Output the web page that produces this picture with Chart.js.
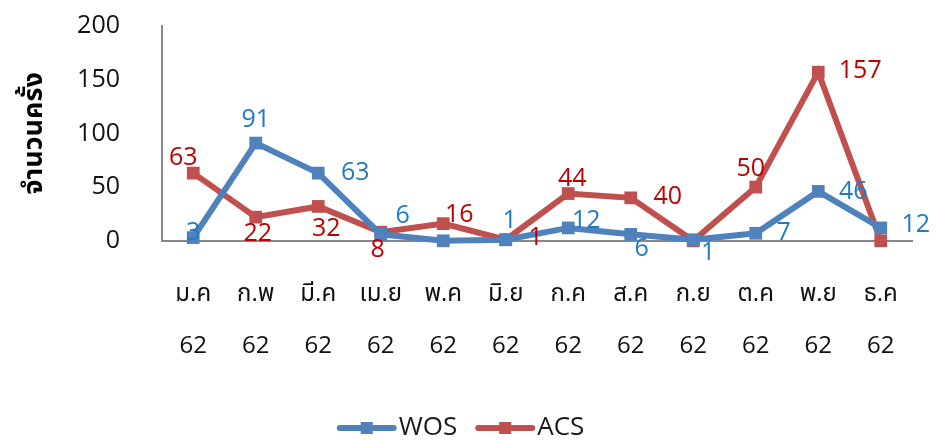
<!DOCTYPE html>
<html>
<head>
<meta charset="utf-8">
<script src="https://cdn.jsdelivr.net/npm/chart.js@4"></script>
<style>
  html, body { margin: 0; padding: 0; background: #fff; }
  #wrap { width: 944px; height: 440px; }
</style>
</head>
<body>
<div id="wrap"><canvas id="chart" width="944" height="440"></canvas></div>
<script>
// data
const months = ['ม.ค', 'ก.พ', 'มี.ค', 'เม.ย', 'พ.ค', 'มิ.ย', 'ก.ค', 'ส.ค', 'ก.ย', 'ต.ค', 'พ.ย', 'ธ.ค'];
const years = ['62', '62', '62', '62', '62', '62', '62', '62', '62', '62', '62', '62'];
const wosValues = [3, 91, 63, 6, 0, 1, 12, 6, 1, 7, 46, 12];
const acsValues = [63, 22, 32, 8, 16, 1, 44, 40, 0, 50, 157, 0];
const yTicks = [0, 50, 100, 150, 200];

// which labels are shown, and where they sit relative to the point (style only)
const wosShow = [true, true, true, true, false, true, true, true, true, true, true, true];
const acsShow = [true, true, true, true, true, true, true, true, false, true, true, false];
const wosOffsets = [[0, -5], [0, -23], [37, 0], [22, -18], [0, 0], [4, -19], [18, -7], [11, 15], [15, 13], [28, 0], [35, 0], [35, -3]];
const acsOffsets = [[-10, -15], [2, 17], [8, 22], [-3, 18], [16, -9], [30, -2], [4, -15], [37, -1], [0, 0], [-5, -18], [42, -1], [0, 0]];

const FONT = '"Open Sans", "Noto Sans", "Noto Sans Thai", Loma, Garuda, "DejaVu Sans", sans-serif';
const WOS_LINE = '#4f81bd';
const ACS_LINE = '#c0504d';
const WOS_TEXT = '#1f7bc4';
const ACS_TEXT = '#c00000';

const labelPlugin = {
    id: 'valueLabels',
    afterDatasetsDraw(chart) {
        const ctx = chart.ctx;
        const sets = [
            { values: wosValues, show: wosShow, offsets: wosOffsets, color: WOS_TEXT },
            { values: acsValues, show: acsShow, offsets: acsOffsets, color: ACS_TEXT }
        ];
        ctx.save();
        ctx.font = '25px ' + FONT;
        ctx.textAlign = 'center';
        ctx.textBaseline = 'middle';
        sets.forEach((s, di) => {
            const meta = chart.getDatasetMeta(di);
            meta.data.forEach((pt, i) => {
                if (!s.show[i]) return;
                ctx.fillStyle = s.color;
                ctx.fillText(String(s.values[i]), pt.x + s.offsets[i][0], pt.y + s.offsets[i][1]);
            });
        });
        ctx.restore();
    }
};

const legendPlugin = {
    id: 'lineLegend',
    afterDraw(chart) {
        const ctx = chart.ctx;
        const items = [
            { text: 'WOS', color: WOS_LINE },
            { text: 'ACS', color: ACS_LINE }
        ];
        ctx.save();
        ctx.font = '26px ' + FONT;
        const lineLen = 54, gapText = 5, gapItem = 21;
        let total = 0;
        items.forEach((it, i) => {
            total += lineLen + gapText + ctx.measureText(it.text).width;
            if (i < items.length - 1) total += gapItem;
        });
        let x = 462 - total / 2;
        const y = 428;
        items.forEach(it => {
            ctx.strokeStyle = it.color;
            ctx.lineWidth = 6;
            ctx.lineCap = 'round';
            ctx.beginPath();
            ctx.moveTo(x, y);
            ctx.lineTo(x + lineLen, y);
            ctx.stroke();
            ctx.fillStyle = it.color;
            ctx.fillRect(x + lineLen / 2 - 6, y - 6, 12, 12);
            x += lineLen + gapText;
            ctx.fillStyle = '#1a1a1a';
            ctx.textAlign = 'left';
            ctx.textBaseline = 'middle';
            ctx.fillText(it.text, x, y);
            x += ctx.measureText(it.text).width + gapItem;
        });
        ctx.restore();
    }
};

new Chart(document.getElementById('chart').getContext('2d'), {
    type: 'line',
    data: {
        labels: months.map((m, i) => [m, years[i]]),
        datasets: [
            {
                label: 'WOS',
                data: wosValues,
                borderColor: WOS_LINE,
                backgroundColor: WOS_LINE,
                borderWidth: 6,
                pointStyle: 'rect',
                pointRadius: 9,
                pointHoverRadius: 9,
                pointBorderWidth: 0,
                tension: 0,
                clip: false
            },
            {
                label: 'ACS',
                data: acsValues,
                borderColor: ACS_LINE,
                backgroundColor: ACS_LINE,
                borderWidth: 6,
                pointStyle: 'rect',
                pointRadius: 9,
                pointHoverRadius: 9,
                pointBorderWidth: 0,
                tension: 0,
                clip: false
            }
        ]
    },
    options: {
        responsive: false,
        animation: false,
        layout: { padding: { top: 26, right: 32, bottom: 40, left: 0 } },
        plugins: {
            legend: { display: false },
            tooltip: { enabled: false }
        },
        scales: {
            x: {
                offset: true,
                grid: { display: false, drawTicks: false },
                border: { display: true, color: '#888888', width: 2 },
                afterFit(axis) { axis.paddingLeft = 0; axis.paddingRight = 0; },
                ticks: {
                    color: '#111',
                    padding: 28,
                    maxRotation: 0,
                    autoSkip: false,
                    font: { family: FONT, size: 24, lineHeight: 2.15 }
                }
            },
            y: {
                min: 0,
                max: 200,
                afterBuildTicks(axis) { axis.ticks = yTicks.map(v => ({ value: v })); },
                afterFit(axis) { axis.width = 162; axis.paddingTop = 0; axis.paddingBottom = 0; },
                grid: { display: false, drawTicks: false },
                border: { display: true, color: '#888888', width: 2 },
                title: {
                    display: true,
                    text: 'จำนวนครั้ง',
                    color: '#000',
                    padding: { top: 18, bottom: 26 },
                    font: { family: FONT, size: 27, weight: 'bold' }
                },
                ticks: {
                    color: '#111',
                    padding: 42,
                    font: { family: FONT, size: 25 }
                }
            }
        }
    },
    plugins: [labelPlugin, legendPlugin]
});
</script>
</body>
</html>
